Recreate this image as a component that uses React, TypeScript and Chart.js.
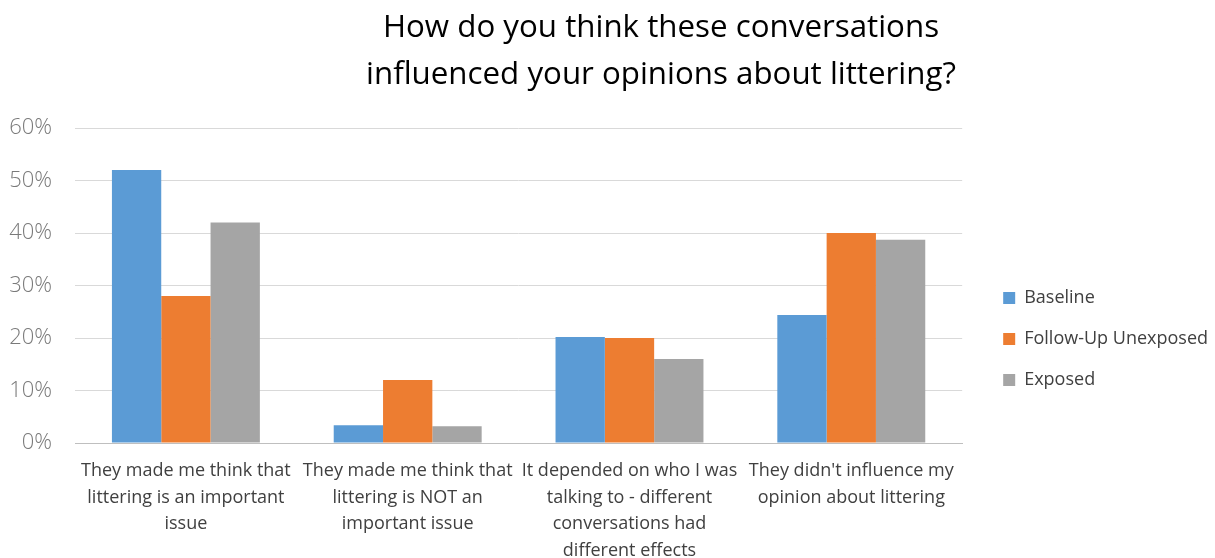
import React, { useEffect, useRef } from "react";
import { Chart, registerables } from "chart.js";

Chart.register(...registerables);

const titleLines = [
  "How do you think these conversations",
  "influenced your opinions about littering?",
];

const categories: string[][] = [
  ["They made me think that", "littering is an important", "issue"],
  ["They made me think that", "littering is NOT an", "important issue"],
  ["It depended on who I was", "talking to - different", "conversations had", "different effects"],
  ["They didn't influence my", "opinion about littering"],
];

const seriesNames = ["Baseline", "Follow-Up Unexposed", "Exposed"];
const baseline = [52, 3.4, 20.2, 24.4];
const followUpUnexposed = [28, 12, 20, 40];
const exposed = [42, 3.2, 16, 38.7];
const seriesColors = ["#5b9bd5", "#ed7d31", "#a5a5a5"];

const yTicks = [0, 10, 20, 30, 40, 50, 60];

const FONT = "'Open Sans', 'Noto Sans', sans-serif";

const titlePlugin = {
  id: "customTitle",
  afterDraw(chart: any) {
    const ctx = chart.ctx;
    ctx.save();
    ctx.font = `31.3px ${FONT}`;
    ctx.fillStyle = "#000000";
    ctx.textAlign = "center";
    ctx.textBaseline = "alphabetic";
    ctx.fillText(titleLines[0], 661, 37);
    ctx.fillText(titleLines[1], 661, 84);
    ctx.restore();
  },
};

// Adds a gap between the plot area and the legend, and nudges the legend up.
const legendGapPlugin = {
  id: "legendGap",
  beforeLayout(chart: any) {
    const lg = chart.legend;
    if (!lg || lg.__patched) return;
    lg.__patched = true;
    const origFit = lg.fit.bind(lg);
    lg.fit = function () {
      origFit();
      this.width += 15;
    };
    const origDraw = lg.draw.bind(lg);
    lg.draw = function (...args: any[]) {
      const c = this.ctx;
      c.save();
      c.translate(18, -4);
      origDraw(...args);
      c.restore();
    };
  },
};

export default function App() {
  const ref = useRef<HTMLCanvasElement | null>(null);

  useEffect(() => {
    if (!ref.current) return;
    const chart = new Chart(ref.current, {
      type: "bar",
      data: {
        labels: categories,
        datasets: [baseline, followUpUnexposed, exposed].map((d, i) => ({
          label: seriesNames[i],
          data: d,
          backgroundColor: seriesColors[i],
          borderWidth: 0,
          categoryPercentage: 0.667,
          barPercentage: 1.0,
        })),
      },
      options: {
        animation: false,
        responsive: false,
        maintainAspectRatio: false,
        layout: { padding: { top: 128, left: 0, right: 0, bottom: 0 } },
        plugins: {
          title: { display: false },
          tooltip: { enabled: false },
          legend: {
            position: "right",
            labels: {
              boxWidth: 12,
              boxHeight: 12,
              padding: 23,
              color: "#404040",
              font: { family: FONT, size: 18 },
            },
          },
        },
        scales: {
          x: {
            afterFit: (scale: any) => {
              scale.height = 115;
            },
            grid: { display: false, drawTicks: false },
            border: { display: true, color: "#bfbfbf", width: 1 },
            ticks: {
              color: "#404040",
              font: { family: FONT, size: 18, lineHeight: 1.47 },
              maxRotation: 0,
              minRotation: 0,
              autoSkip: false,
              padding: 15,
            },
          },
          y: {
            min: 0,
            max: 60,
            afterFit: (scale: any) => {
              scale.width = 75;
            },
            afterBuildTicks: (scale: any) => {
              scale.ticks = yTicks.map((v) => ({ value: v }));
            },
            grid: { color: "#d9d9d9", lineWidth: 1, drawTicks: false },
            border: { display: false },
            ticks: {
              color: "#7a7a7a",
              font: { family: FONT, size: 22, weight: "300" },
              padding: 23,
              callback: (v: any) => `${v}%`,
            },
          },
        },
      },
      plugins: [titlePlugin, legendGapPlugin],
    } as any);
    return () => chart.destroy();
  }, []);

  return (
    <div style={{ position: "fixed", left: 0, top: 0, width: 1215, height: 558 }}>
      <canvas ref={ref} width={1215} height={558} style={{ width: 1215, height: 558 }} />
    </div>
  );
}
